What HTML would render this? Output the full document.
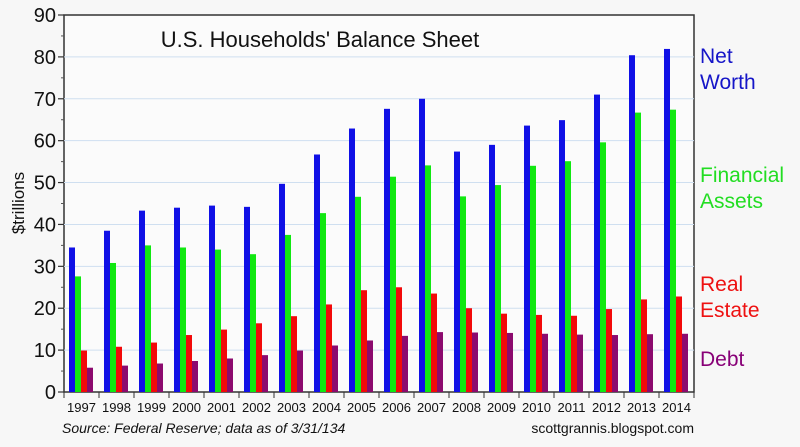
<!DOCTYPE html>
<html><head><meta charset="utf-8"><style>
body{margin:0;background:#f7f7f7;}
svg{display:block;font-family:"Liberation Sans",sans-serif;}
</style></head><body>
<svg id="chart" width="800" height="447" viewBox="0 0 800 447">
<rect x="0" y="0" width="800" height="447" fill="#f7f7f7"/>
<rect x="64" y="15" width="630" height="377" fill="#fbfbfb" stroke="#333" stroke-width="1.5"/>
<g id="grid"></g><g id="bars"></g><g id="axes"></g>
<text x="320" y="47" font-size="22" text-anchor="middle" fill="#111">U.S. Households' Balance Sheet</text>
<text transform="translate(24,203) rotate(-90)" font-size="17" text-anchor="middle" fill="#111">$trillions</text>
<g font-size="21">
<text x="700" y="63" fill="#1515c8"><tspan x="700">Net</tspan><tspan x="700" dy="26">Worth</tspan></text>
<text x="700" y="182" fill="#22dd22"><tspan x="700">Financial</tspan><tspan x="700" dy="26">Assets</tspan></text>
<text x="700" y="291" fill="#ee1111"><tspan x="700">Real</tspan><tspan x="700" dy="26">Estate</tspan></text>
<text x="700" y="366" fill="#880077">Debt</text>
</g>
<text x="62" y="433" font-size="14" font-style="italic" fill="#111">Source: Federal Reserve; data as of 3/31/134</text>
<text x="694" y="433" font-size="14" text-anchor="end" fill="#111">scottgrannis.blogspot.com</text>
</svg>
<script>
const years=["1997","1998","1999","2000","2001","2002","2003","2004","2005","2006","2007","2008","2009","2010","2011","2012","2013","2014"];
const netWorth=[34.5,38.5,43.3,44.0,44.5,44.2,49.7,56.7,62.9,67.6,70.0,57.4,59.0,63.6,64.9,71.0,80.4,81.9];
const financialAssets=[27.6,30.8,35.0,34.5,34.0,32.9,37.5,42.7,46.6,51.4,54.1,46.7,49.4,54.0,55.1,59.6,66.7,67.4];
const realEstate=[9.9,10.8,11.8,13.6,14.9,16.4,18.1,20.9,24.3,25.0,23.5,20.0,18.7,18.4,18.2,19.8,22.1,22.8];
const debt=[5.8,6.3,6.8,7.4,8.0,8.8,9.9,11.1,12.3,13.4,14.3,14.2,14.1,13.9,13.7,13.6,13.8,13.9];
const yTicks=[0,10,20,30,40,50,60,70,80,90];
const NS="http://www.w3.org/2000/svg";
const X0=64,X1=694,Y0=392,Y1=15,YMAX=90;
const slot=(X1-X0)/years.length;
const y=v=>Y0-(v/YMAX)*(Y0-Y1);
const x=i=>X0+i*slot;
function mk(t,a,p){const e=document.createElementNS(NS,t);for(const k in a)e.setAttribute(k,a[k]);p.appendChild(e);return e;}
const grid=document.getElementById('grid'),bars=document.getElementById('bars'),axes=document.getElementById('axes');
yTicks.forEach(v=>{
  if(v>0&&v<YMAX){const g=mk('line',{x1:X0,x2:X1,y1:y(v),y2:y(v),stroke:'#cfdff0','stroke-width':1},grid);
  
  }
  const t=mk('line',{x1:X0-6,x2:X0,y1:y(v),y2:y(v),stroke:'#333','stroke-width':1.2},axes);
  
  
  const l=mk('text',{x:X0-8,y:y(v)+7,'font-size':20,'text-anchor':'end',fill:'#111'},axes);
  l.textContent=v;
  
  
});
for(let v=5;v<YMAX;v+=10){const m=mk('line',{x1:X0-3,x2:X0,y1:y(v),y2:y(v),stroke:'#555','stroke-width':1},axes);
  
  }
const series=[[netWorth,'#1010e6','net-worth'],[financialAssets,'#11e811','financial-assets'],[realEstate,'#f20a0a','real-estate'],[debt,'#8c0a6e','debt']];
years.forEach((yr,i)=>{
  series.forEach((s,j)=>{
    const v=s[0][i];
    const r=mk('rect',{x:x(i)+5+j*6,y:y(v),width:6,height:Y0-y(v),fill:s[1]},bars);
    
    
  });
  const t=mk('line',{x1:x(i),x2:x(i),y1:Y0,y2:Y0+6,stroke:'#333','stroke-width':1},axes);
  
  
  const l=mk('text',{x:x(i)+slot/2,y:Y0+20,'font-size':13,'text-anchor':'middle',fill:'#111'},axes);
  l.textContent=yr;
  
  
});
const te=mk('line',{x1:X1,x2:X1,y1:Y0,y2:Y0+6,stroke:'#333','stroke-width':1},axes);


</script>
</body></html>
